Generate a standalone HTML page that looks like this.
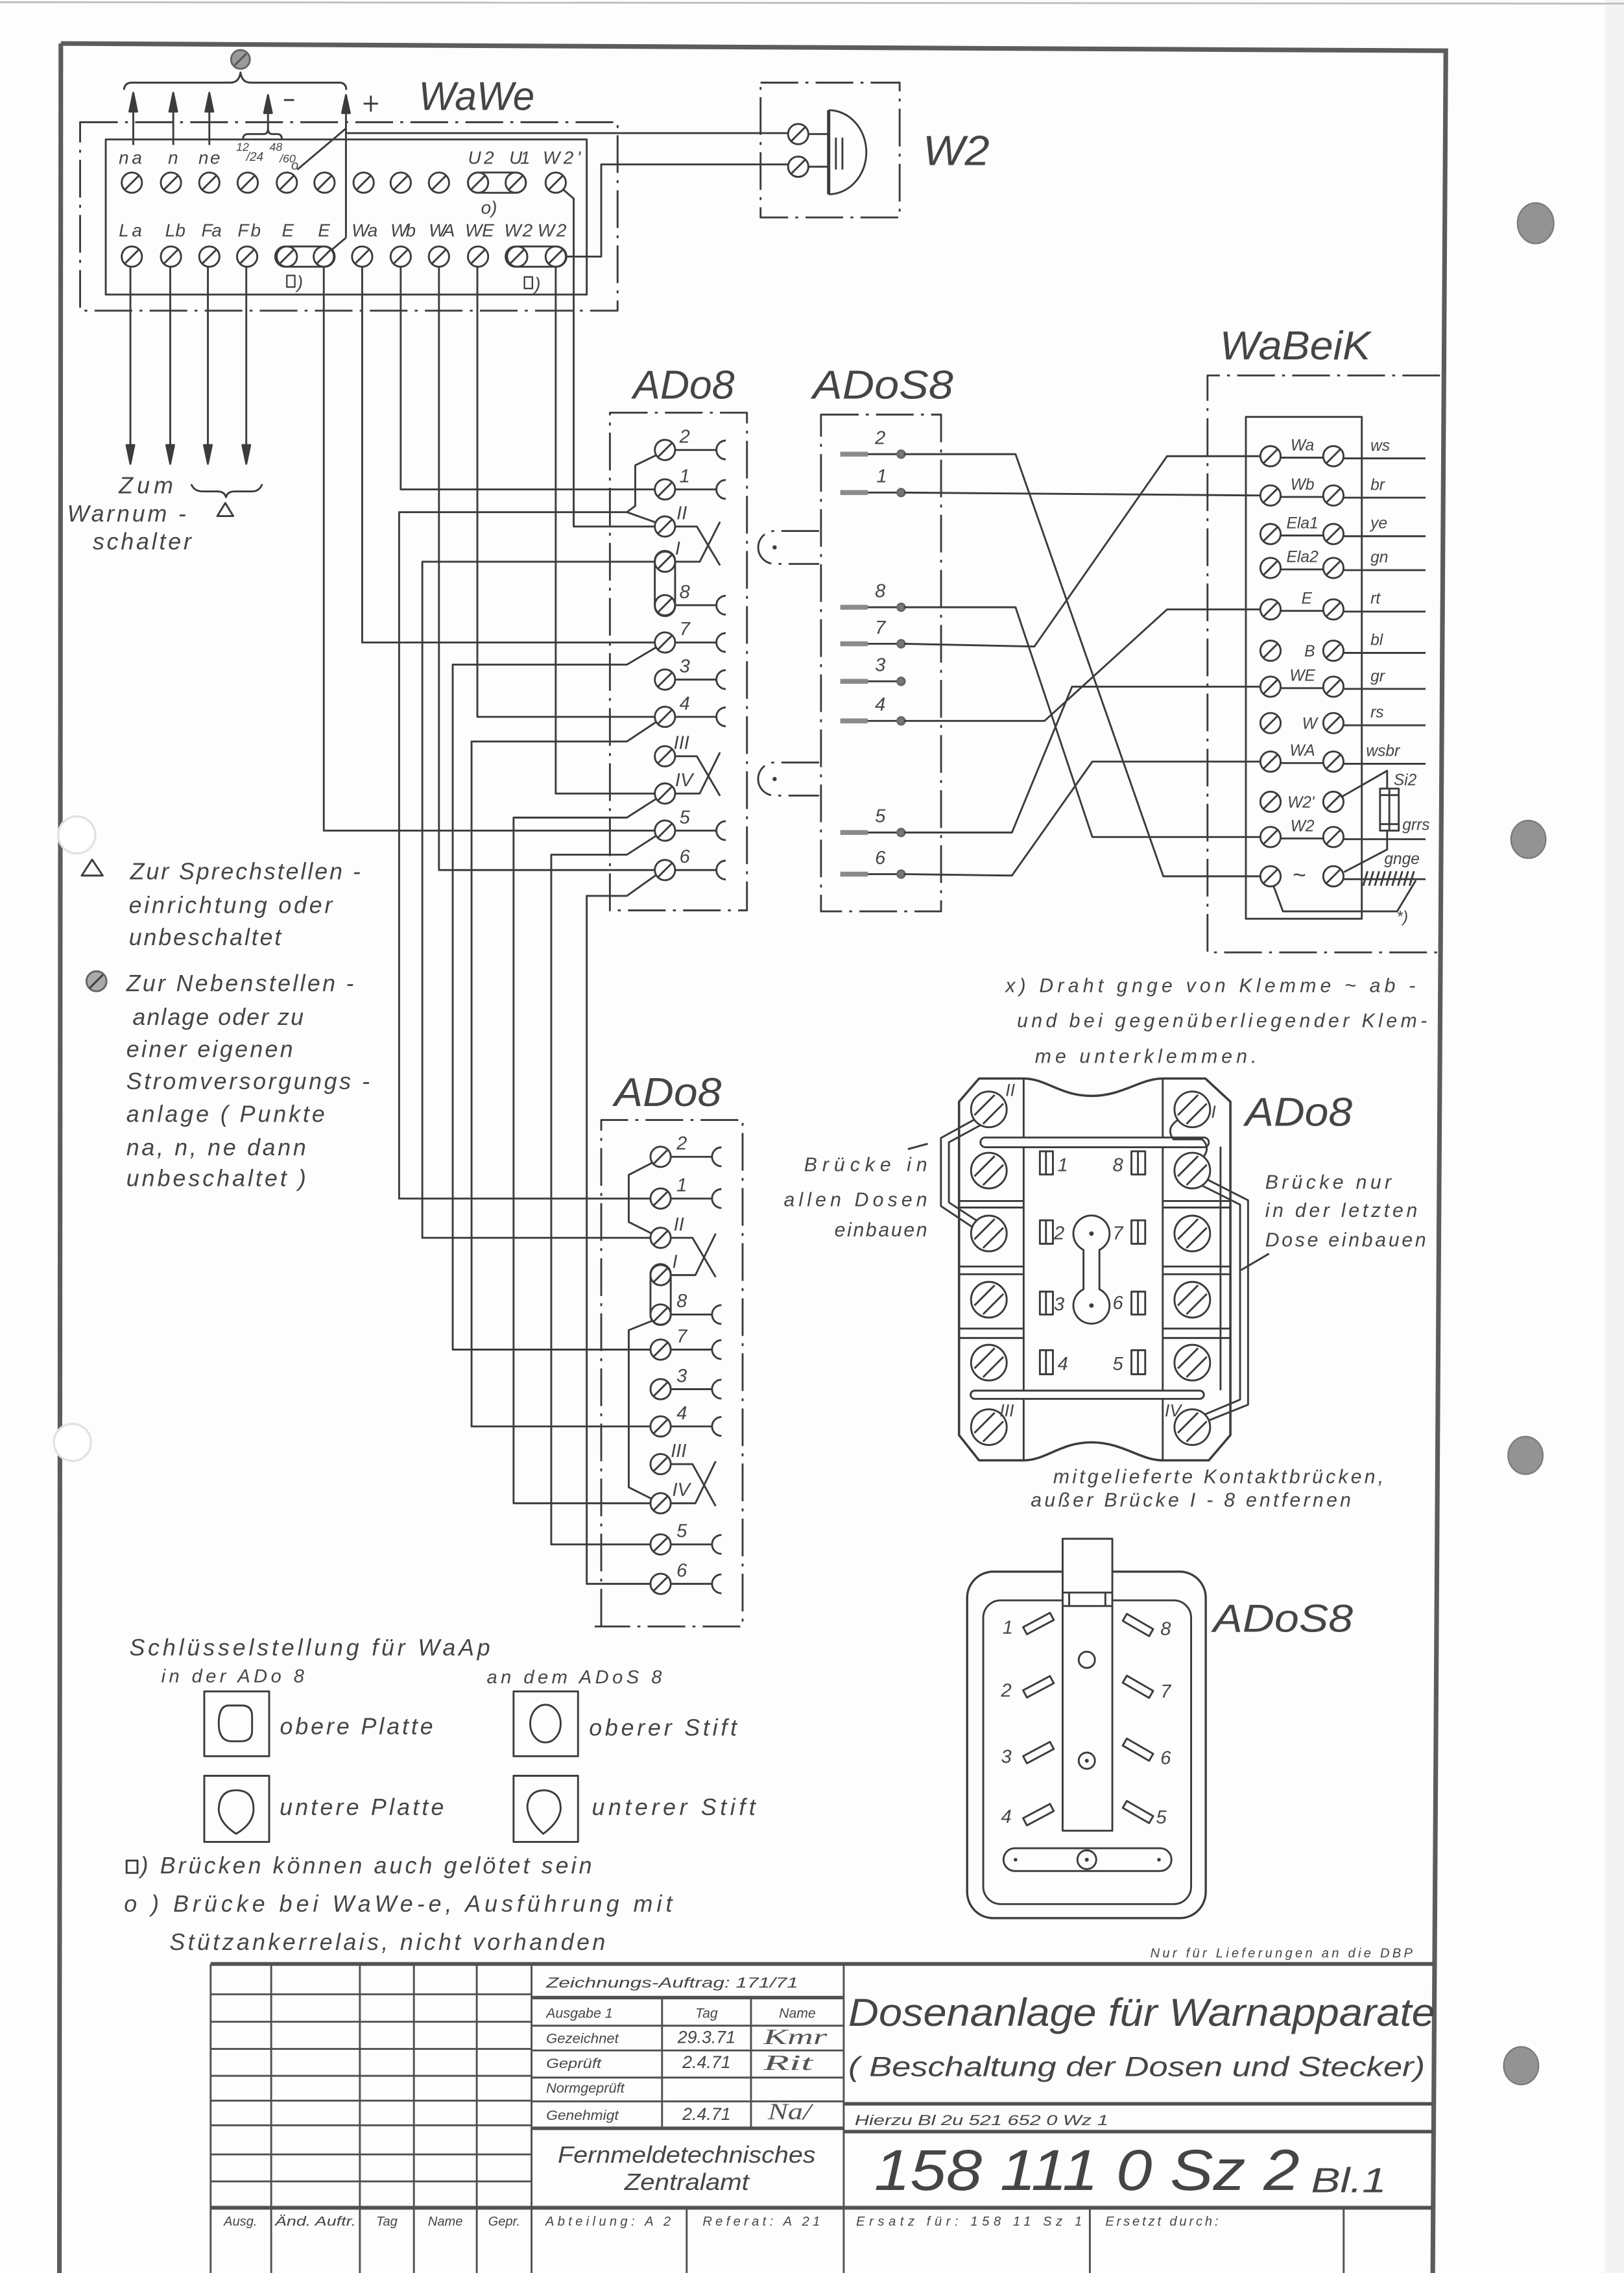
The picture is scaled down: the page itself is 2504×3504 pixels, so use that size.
<!DOCTYPE html>
<html><head><meta charset="utf-8">
<style>
html,body{margin:0;padding:0;background:#fff;}
svg{display:block;}
.t{font-family:"Liberation Sans",sans-serif;font-style:italic;fill:#454545;stroke:none;}
.n{font-family:"Liberation Sans",sans-serif;fill:#454545;stroke:none;}
.sg{font-family:"Liberation Serif",serif;font-style:italic;fill:#555;stroke:none;}
.dd{stroke-dasharray:26 5 2 5;}
</style></head><body>
<svg xmlns="http://www.w3.org/2000/svg" xmlns:xlink="http://www.w3.org/1999/xlink" width="2504" height="3504" viewBox="0 0 1121 1568" preserveAspectRatio="none">
<defs>
 <g id="t"><circle r="7" fill="#fff"/><line x1="-4.6" y1="4.6" x2="4.6" y2="-4.6"/></g>
 <path id="s" d="M6,-6.5 A6.5,6.5 0 0 0 6,6.5"/>
 <g id="T"><circle r="12.3" fill="#fff"/><line x1="-10" y1="4" x2="4" y2="-10"/><line x1="-4" y1="10" x2="10" y2="-4"/></g>
</defs>
<rect width="1121" height="1568" fill="#fdfdfd"/>
<rect x="1108" y="0" width="13" height="1568" fill="#f3f3f3"/>
<line x1="0" y1="1.5" x2="1121" y2="2.5" stroke="#bbb" stroke-width="1.2"/>

<!-- frame -->
<g stroke="#5c5c5c" stroke-width="3.2" fill="none">
 <path d="M42,30 L998,35 L989,1568"/>
 <line x1="42" y1="30" x2="41" y2="1568"/>
</g>
<!-- punch holes -->
<circle cx="53" cy="576" r="12.8" fill="#fff" stroke="#e2e2e2" stroke-width="1.5"/>
<circle cx="50" cy="995" r="12.8" fill="#fff" stroke="#e2e2e2" stroke-width="1.5"/>
<g fill="#939393" stroke="#7a7a7a" stroke-width="1">
 <ellipse cx="1060" cy="154" rx="12.5" ry="14"/>
 <ellipse cx="1055" cy="579" rx="12" ry="13"/>
 <ellipse cx="1053" cy="1004" rx="12" ry="13"/>
 <ellipse cx="1050" cy="1425" rx="12" ry="13"/>
</g>

<g stroke="#3c3c3c" stroke-width="1.3" fill="none" stroke-linejoin="round">

<!-- ===== WaWe ===== -->
<rect class="dd" x="55.3" y="84.3" width="371" height="130"/>
<rect x="73" y="96.2" width="332" height="107"/>
<path d="M85.6,62 Q86,57 91,57 H159 Q165,57 166,50 Q167,57 173,57 H234 Q239,57 239,62"/>
<circle cx="166" cy="41" r="6.5" fill="#9a9a9a" stroke="#666"/>
<line x1="162" y1="45" x2="170" y2="37" stroke="#555"/>
<path d="M92,100 V70 M119.6,100 V70 M144.5,100 V70 M185,88.6 V70 M238.8,164 V70"/>
<g fill="#3c3c3c">
 <path d="M89.3,77 L92,64 L94.7,77 Z"/><path d="M116.9,77 L119.6,64 L122.3,77 Z"/>
 <path d="M141.8,77 L144.5,64 L147.2,77 Z"/><path d="M182.3,78 L185,65.5 L187.7,78 Z"/>
 <path d="M236.1,78 L238.8,65.5 L241.5,78 Z"/>
</g>
<path d="M167.7,96 Q168,92.5 171,92.5 H182 Q185,92.5 185,88.6 Q185,92.5 188,92.5 H191.5 Q194.5,92.5 194.5,96"/>
<path d="M196,69 H203 M251,71.5 H261 M256,66 V77"/>
<path d="M238.8,164 L227,174 M238.8,88.6 L205.2,117"/>
<use xlink:href="#t" x="91" y="126"/><use xlink:href="#t" x="118" y="126"/><use xlink:href="#t" x="144.5" y="126"/>
<use xlink:href="#t" x="171" y="126"/><use xlink:href="#t" x="198" y="126"/><use xlink:href="#t" x="224" y="126"/>
<use xlink:href="#t" x="251" y="126"/><use xlink:href="#t" x="276.6" y="126"/><use xlink:href="#t" x="303" y="126"/>
<use xlink:href="#t" x="330" y="126"/><use xlink:href="#t" x="356" y="126"/><use xlink:href="#t" x="383.6" y="126"/>
<rect x="323" y="119" width="40" height="14" rx="7"/>
<use xlink:href="#t" x="91" y="177"/><use xlink:href="#t" x="118" y="177"/><use xlink:href="#t" x="144.5" y="177"/>
<use xlink:href="#t" x="170.6" y="177"/><use xlink:href="#t" x="198" y="177"/><use xlink:href="#t" x="223.5" y="177"/>
<use xlink:href="#t" x="250" y="177"/><use xlink:href="#t" x="276.6" y="177"/><use xlink:href="#t" x="303" y="177"/>
<use xlink:href="#t" x="330" y="177"/><use xlink:href="#t" x="357" y="177"/><use xlink:href="#t" x="383.6" y="177"/>
<rect x="190" y="170" width="41" height="14" rx="7"/>
<rect x="349" y="170" width="42" height="14" rx="7"/>
<rect x="198" y="190" width="5.5" height="8" stroke-width="1"/>
<rect x="362" y="191" width="5.5" height="8" stroke-width="1"/>
<path d="M90,184 V310 M117.5,184 V310 M143.5,184 V310 M170,184 V310"/>
<g fill="#3c3c3c">
 <path d="M87.3,307 L90,320 L92.7,307 Z"/><path d="M114.8,307 L117.5,320 L120.2,307 Z"/>
 <path d="M140.8,307 L143.5,320 L146.2,307 Z"/><path d="M167.3,307 L170,320 L172.7,307 Z"/>
</g>
<path d="M132,334 Q134,339 140,339 H150 Q155,339 156,343 Q157,339 162,339 H174 Q179,339 181,334"/>
<polygon points="150,356 155.5,347 161,356"/>

<!-- ===== W2 ===== -->
<rect class="dd" x="525" y="57" width="96" height="93"/>
<path d="M238.8,91.8 H544 M390.8,177 H415 V113.4 H544"/>
<use xlink:href="#t" x="551" y="92.5"/><use xlink:href="#t" x="551" y="115"/>
<path d="M558,92.5 H572 M558,115 H572"/>
<path d="M572,76 V134" stroke-width="2.2"/>
<path d="M572,76 A26,29 0 0 1 572,134"/>
<path d="M577,95 V117 M581.5,95 V117"/>

<!-- ===== wires WaWe -> ADo8 ===== -->
<path d="M223.5,184 V573 H452"/>
<path d="M250,184 V443.2 H452"/>
<path d="M276.6,184 V337.6 H452"/>
<path d="M303,184 V600.2 H452"/>
<path d="M329.5,184 V494.5 H452"/>
<path d="M383.6,184 V547.4 H452"/>
<path d="M389,131 L396,137 V363.2 H452"/>
<path d="M432.7,353.3 H275.5 V826.8 H449"/>
<path d="M454,313.5 L438.5,321 V349 L432.7,353.3 L453,360.5"/>
<path d="M452,387.5 H291.5 V853.9 H449"/>
<path d="M453,446.5 L432.7,458.5 H312.5 V931 H449"/>
<path d="M453,498 L432.7,511.5 H325.5 V984 H449"/>
<path d="M453,551 L432.7,564 H354.5 V1037 H449"/>
<path d="M453,576.5 L432.7,589.6 H380.5 V1065.4 H449"/>
<path d="M453,603.5 L432.7,618 H405 V1092.6 H449"/>

<!-- ===== ADo8 (top) ===== -->
<rect class="dd" x="421" y="284.7" width="94.6" height="343.3"/>
<g>
 <use xlink:href="#t" x="459" y="310.4"/><use xlink:href="#t" x="459" y="337.6"/><use xlink:href="#t" x="459" y="363.2"/>
 <use xlink:href="#t" x="459" y="387.5"/><use xlink:href="#t" x="459" y="417.5"/><use xlink:href="#t" x="459" y="443.2"/>
 <use xlink:href="#t" x="459" y="468.8"/><use xlink:href="#t" x="459" y="494.5"/><use xlink:href="#t" x="459" y="521.7"/>
 <use xlink:href="#t" x="459" y="547.4"/><use xlink:href="#t" x="459" y="573"/><use xlink:href="#t" x="459" y="600.2"/>
</g>
<rect x="452" y="380" width="14" height="45" rx="7"/>
<path d="M466,310.4 H495 M466,337.6 H495 M466,417.5 H495 M466,443.2 H495 M466,468.8 H495 M466,494.5 H495 M466,573 H495 M466,600.2 H495"/>
<use xlink:href="#s" x="495" y="310.4"/><use xlink:href="#s" x="495" y="337.6"/><use xlink:href="#s" x="495" y="417.5"/>
<use xlink:href="#s" x="495" y="443.2"/><use xlink:href="#s" x="495" y="468.8"/><use xlink:href="#s" x="495" y="494.5"/>
<use xlink:href="#s" x="495" y="573"/><use xlink:href="#s" x="495" y="600.2"/>
<path d="M466,363.2 H481 L497,390 M466,387.5 H483 L497,360"/>
<path d="M466,521.7 H481 L497,549 M466,547.4 H483 L497,519"/>

<path class="dd" d="M565.4,366.3 H534.7 A11.35,11.35 0 0 0 534.7,389 H565.4"/>
<path class="dd" d="M565.4,526 H534.7 A11.4,11.4 0 0 0 534.7,548.8 H565.4"/>
<circle cx="534.7" cy="377.6" r="0.8" fill="#444"/>
<circle cx="534.7" cy="537.4" r="0.8" fill="#444"/>

<!-- ===== ADoS8 (top) ===== -->
<rect class="dd" x="566.7" y="286" width="82.9" height="342.7"/>
<g stroke="#8a8a8a" stroke-width="3.4">
 <path d="M580,313.3 H599 M580,339.8 H599 M580,418.9 H599 M580,444.1 H599 M580,470 H599 M580,497.3 H599 M580,574.3 H599 M580,603 H599"/>
</g>
<path d="M599,313.3 H620 M599,339.8 H620 M599,418.9 H620 M599,444.1 H620 M599,470 H620 M599,497.3 H620 M599,574.3 H620 M599,603 H620"/>
<g fill="#777" stroke="#666">
 <circle cx="622" cy="313.3" r="2.6"/><circle cx="622" cy="339.8" r="2.6"/><circle cx="622" cy="418.9" r="2.6"/>
 <circle cx="622" cy="444.1" r="2.6"/><circle cx="622" cy="470" r="2.6"/><circle cx="622" cy="497.3" r="2.6"/>
 <circle cx="622" cy="574.3" r="2.6"/><circle cx="622" cy="603" r="2.6"/>
</g>
<path d="M624,313.3 H701 L803,604.5 H870"/>
<path d="M624,339.8 L870,341.8"/>
<path d="M624,418.9 H701 L754,577.4 H870"/>
<path d="M624,444.1 L714,446 L805.6,314.7 H870"/>
<path d="M624,497.3 H721 L805.6,420.4 H870"/>
<path d="M624,574.3 H698.5 L740,473.7 H870"/>
<path d="M624,603 L698.5,604 L754,525.4 H870"/>

<!-- ===== WaBeiK ===== -->
<path class="dd" d="M994,259 H833.5 V657 H994"/>
<rect x="860" y="287.6" width="80" height="346.2"/>
<path d="M884,315.7 H913 M884,342.8 H913 M884,369.4 H913 M884,392.8 H913 M884,421.4 H913 M884,474.7 H913 M884,526.4 H913 M884,578.4 H913"/>
<path d="M927,316.2 H984 M927,343.3 H984 M927,369.9 H984 M927,393.3 H984 M927,421.9 H984 M927,450.4 H984 M927,475.2 H984 M927,500.3 H984 M927,526.9 H984 M927,578.9 H984"/>
<g>
 <use xlink:href="#t" x="877" y="314.7"/><use xlink:href="#t" x="920.4" y="314.7"/>
 <use xlink:href="#t" x="877" y="341.8"/><use xlink:href="#t" x="920.4" y="341.8"/>
 <use xlink:href="#t" x="877" y="368.4"/><use xlink:href="#t" x="920.4" y="368.4"/>
 <use xlink:href="#t" x="877" y="391.8"/><use xlink:href="#t" x="920.4" y="391.8"/>
 <use xlink:href="#t" x="877" y="420.4"/><use xlink:href="#t" x="920.4" y="420.4"/>
 <use xlink:href="#t" x="877" y="448.9"/><use xlink:href="#t" x="920.4" y="448.9"/>
 <use xlink:href="#t" x="877" y="473.7"/><use xlink:href="#t" x="920.4" y="473.7"/>
 <use xlink:href="#t" x="877" y="498.8"/><use xlink:href="#t" x="920.4" y="498.8"/>
 <use xlink:href="#t" x="877" y="525.4"/><use xlink:href="#t" x="920.4" y="525.4"/>
 <use xlink:href="#t" x="877" y="553.1"/><use xlink:href="#t" x="920.4" y="553.1"/>
 <use xlink:href="#t" x="877" y="577.4"/><use xlink:href="#t" x="920.4" y="577.4"/>
 <use xlink:href="#t" x="877" y="604.5"/><use xlink:href="#t" x="920.4" y="604.5"/>
</g>
<path d="M925.5,550 L957.5,531.7 V544 M957.5,573 V586 L927.7,601.6"/>
<rect x="952.6" y="544" width="12.9" height="29"/>
<path d="M952.6,548.5 H965.5 M952.6,568.5 H965.5 M959,544 V573"/>
<path d="M927.5,606.5 H984"/>
<path d="M944,601 L941,611 M948,601 L945,611 M952,601 L949,611 M956,601 L953,611 M960,601 L957,611 M964,601 L961,611 M968,601 L965,611 M972,601 L969,611 M976,601 L973,611"/>
<path d="M879,611 L885.6,628.7 H964.4 L977.3,607.3"/>

<!-- ===== ADo8 (bottom) ===== -->
<path class="dd" d="M415,1122 V772.6 H512.6 V1122 H410.5"/>
<path d="M450.5,802 L434,810.5 V843 L450,851"/>
<path d="M450.5,911 L434,917.6 V1026 L450,1034"/>
<g>
 <use xlink:href="#t" x="456" y="798"/><use xlink:href="#t" x="456" y="826.8"/><use xlink:href="#t" x="456" y="853.9"/>
 <use xlink:href="#t" x="456" y="879.6"/><use xlink:href="#t" x="456" y="906.8"/><use xlink:href="#t" x="456" y="931"/>
 <use xlink:href="#t" x="456" y="958.3"/><use xlink:href="#t" x="456" y="984"/><use xlink:href="#t" x="456" y="1010"/>
 <use xlink:href="#t" x="456" y="1037"/><use xlink:href="#t" x="456" y="1065.4"/><use xlink:href="#t" x="456" y="1092.6"/>
</g>
<rect x="449" y="872" width="14" height="42" rx="7"/>
<path d="M463,798 H492 M463,826.8 H492 M463,906.8 H492 M463,931 H492 M463,958.3 H492 M463,984 H492 M463,1065.4 H492 M463,1092.6 H492"/>
<use xlink:href="#s" x="492" y="798"/><use xlink:href="#s" x="492" y="826.8"/><use xlink:href="#s" x="492" y="906.8"/>
<use xlink:href="#s" x="492" y="931"/><use xlink:href="#s" x="492" y="958.3"/><use xlink:href="#s" x="492" y="984"/>
<use xlink:href="#s" x="492" y="1065.4"/><use xlink:href="#s" x="492" y="1092.6"/>
<path d="M463,853.9 H478 L494,881 M463,879.6 H480 L494,851"/>
<path d="M463,1010 H478 L494,1039 M463,1037 H480 L494,1008"/>

<!-- ===== ADo8 detail ===== -->
<path d="M662,760 L675.8,744 L706.6,744 C722,744 732,756 753.4,756 C775,756 787,744 802.6,744 L832,744 L849.3,760 L849.3,990 L834.4,1007.4 L802.6,1007.4 C787,1007.4 775,995 753.4,995 C732,995 722,1007.4 706.6,1007.4 L675.8,1007.4 L662,990 Z" stroke-width="1.6"/>
<path d="M706.6,744 V1007.4 M802.6,744 V1007.4 M842.5,791 V959"/>
<path d="M662,828.5 H706.6 M662,833 H706.6 M662,873.7 H706.6 M662,879 H706.6 M662,916.5 H706.6 M662,923 H706.6"/>
<path d="M802.6,828.5 H849.3 M802.6,833 H849.3 M802.6,873.7 H849.3 M802.6,879 H849.3 M802.6,916.5 H849.3 M802.6,923 H849.3"/>
<rect x="676.8" y="784.7" width="157.6" height="6.7" rx="3.3" fill="#fdfdfd"/>
<rect x="670" y="959.3" width="161" height="5.7" rx="2.8" fill="#fdfdfd"/>
<path d="M675,771 L649.5,785 V832 L672,847"/>
<path d="M679,775 L655,788 V829.5 L675,842.5"/>
<path d="M832,813 L861.5,828 V969 L834,980"/>
<path d="M829,817.5 L856,831 V965.5 L831,976"/>
<path d="M814,772 Q804,778 810,786 H830 Q836,792 830,799 Q818,800 814,802"/>
<g>
 <use xlink:href="#T" x="682.6" y="765.3"/><use xlink:href="#T" x="682.6" y="807.5"/><use xlink:href="#T" x="682.6" y="850.9"/>
 <use xlink:href="#T" x="682.6" y="896.6"/><use xlink:href="#T" x="682.6" y="940"/><use xlink:href="#T" x="682.6" y="984.5"/>
 <use xlink:href="#T" x="823" y="765.3"/><use xlink:href="#T" x="823" y="807.5"/><use xlink:href="#T" x="823" y="850.9"/>
 <use xlink:href="#T" x="823" y="896.6"/><use xlink:href="#T" x="823" y="940"/><use xlink:href="#T" x="823" y="984.5"/>
</g>
<rect x="717.8" y="794.2" width="9" height="16"/><rect x="717.8" y="841.8" width="9" height="16.2"/>
<rect x="717.8" y="891" width="9" height="15.8"/><rect x="717.8" y="931.4" width="9" height="16.6"/>
<rect x="781" y="794.2" width="9.5" height="16"/><rect x="781" y="841.8" width="9.5" height="16.2"/>
<rect x="781" y="891" width="9.5" height="15.8"/><rect x="781" y="931.4" width="9.5" height="16.6"/>
<path d="M722,794.2 V810.2 M722,841.8 V858 M722,891 V906.8 M722,931.4 V948 M785.5,794.2 V810.2 M785.5,841.8 V858 M785.5,891 V906.8 M785.5,931.4 V948"/>
<path d="M747.9,862.2 A12.5,12.5 0 1 1 758.9,862.2 L758.9,889.4 A12.5,12.5 0 1 1 747.9,889.4 Z"/>
<circle cx="753.4" cy="851" r="0.9" fill="#444"/><circle cx="753.4" cy="900.6" r="0.9" fill="#444"/>
<path d="M876,864.8 L856.6,876.2 M626.7,792.7 L640.4,789"/>

<!-- ===== ADoS8 detail ===== -->
<rect x="667.6" y="1084.2" width="164.7" height="239" rx="18" stroke-width="1.5"/>
<rect x="678.7" y="1104" width="143.5" height="209.5" rx="12"/>
<rect x="733.5" y="1061.5" width="34.3" height="201.4" fill="#fdfdfd"/>
<path d="M733.5,1098.6 H767.8 M733.5,1107.9 H767.8 M738,1098.6 V1107.9 M763,1098.6 V1107.9"/>
<circle cx="750.2" cy="1145" r="5.6"/>
<circle cx="750.2" cy="1214.6" r="5.6"/><circle cx="750.2" cy="1214.6" r="0.7" fill="#444"/>
<g>
 <rect x="-10.5" y="-2.8" width="21" height="5.6" transform="translate(716.8,1120) rotate(-28)"/>
 <rect x="-10.5" y="-2.8" width="21" height="5.6" transform="translate(716.8,1163.6) rotate(-28)"/>
 <rect x="-10.5" y="-2.8" width="21" height="5.6" transform="translate(716.8,1209) rotate(-28)"/>
 <rect x="-10.5" y="-2.8" width="21" height="5.6" transform="translate(716.8,1251.8) rotate(-28)"/>
 <rect x="-10.5" y="-2.8" width="21" height="5.6" transform="translate(785.5,1121) rotate(30)"/>
 <rect x="-10.5" y="-2.8" width="21" height="5.6" transform="translate(785.5,1163.6) rotate(30)"/>
 <rect x="-10.5" y="-2.8" width="21" height="5.6" transform="translate(785.5,1207) rotate(30)"/>
 <rect x="-10.5" y="-2.8" width="21" height="5.6" transform="translate(785.5,1250) rotate(30)"/>
</g>
<rect x="692.7" y="1275" width="115.9" height="15.7" rx="7.8"/>
<circle cx="750.2" cy="1282.9" r="6.5" fill="#fdfdfd"/><circle cx="750.2" cy="1282.9" r="0.7" fill="#444"/>
<circle cx="701" cy="1282.9" r="0.6" fill="#444"/><circle cx="800" cy="1282.9" r="0.6" fill="#444"/>

<!-- ===== legend boxes ===== -->
<rect x="141" y="1166.8" width="44.8" height="44.7"/>
<rect x="354.5" y="1166.8" width="44.5" height="44.7"/>
<rect x="141" y="1225" width="44.8" height="45.6"/>
<rect x="354.5" y="1225" width="44.5" height="45.6"/>
<path d="M158,1176.5 H167 Q174,1176.5 174,1184 V1194 Q174,1201.2 166,1201.2 H160 Q151,1201.2 151,1189 Q151,1176.5 158,1176.5 Z"/>
<ellipse cx="376.5" cy="1189" rx="10.5" ry="13"/>
<path d="M163,1265 Q152,1258 151,1249 Q151,1235 163,1235 Q175,1235 175,1248 Q175,1258 163,1265 Z"/>
<path d="M375,1265 Q364,1255 364,1246 Q365,1235 376,1235 Q387,1236 387,1248 Q386,1257 375,1265 Z"/>
<rect x="87.4" y="1283.5" width="7.5" height="8.5"/>
<polygon points="56.4,604 63.6,593 70.9,604"/>
<circle cx="66.6" cy="676.9" r="6.9" fill="#aaa" stroke="#666"/>
<line x1="62" y1="681.5" x2="71" y2="672.5"/>

<!-- ===== title block ===== -->
<g stroke="#505050">
 <path d="M145.4,1354.8 H989" stroke-width="2.6"/>
 <path d="M145.4,1354.8 V1568 M187.2,1354.8 V1568 M248.4,1354.8 V1568 M285.7,1354.8 V1568 M329.1,1354.8 V1568 M366.9,1354.8 V1568"/>
 <path d="M145.4,1375.7 H366.9 M145.4,1394.7 H366.9 M145.4,1413.4 H366.9 M145.4,1432 H366.9 M145.4,1449.1 H366.9 M145.4,1466.1 H366.9 M145.4,1486.2 H366.9 M145.4,1504.8 H366.9"/>
 <path d="M145.4,1523 H989" stroke-width="2.6"/>
 <path d="M582.4,1354.8 V1568 M474,1523 V1568 M752.3,1523 V1568 M927.5,1523 V1568"/>
 <path d="M366.9,1378 H582.4 M366.9,1468.2 H582.4 M582.4,1451.3 H989 M582.4,1470.5 H989" stroke-width="2.4"/>
 <path d="M366.9,1397.4 H582.4 M366.9,1414.5 H582.4 M366.9,1433.2 H582.4 M366.9,1449.6 H582.4"/>
 <path d="M457,1378 V1468.2 M518.4,1378 V1468.2"/>
</g>
</g>

<!-- ================= TEXT ================= -->
<g class="t">
 <text x="289" y="75.8" font-size="28" textLength="80" lengthAdjust="spacingAndGlyphs">WaWe</text>
 <text x="637" y="114" font-size="29" textLength="46" lengthAdjust="spacingAndGlyphs">W2</text>
 <text x="437" y="275" font-size="28" textLength="70" lengthAdjust="spacingAndGlyphs">ADo8</text>
 <text x="561" y="275" font-size="28" textLength="97" lengthAdjust="spacingAndGlyphs">ADoS8</text>
 <text x="842" y="248" font-size="28" textLength="104" lengthAdjust="spacingAndGlyphs">WaBeiK</text>
 <text x="424" y="763" font-size="28" textLength="74" lengthAdjust="spacingAndGlyphs">ADo8</text>
 <text x="859.5" y="776.6" font-size="28" textLength="74" lengthAdjust="spacingAndGlyphs">ADo8</text>
 <text x="837.4" y="1125.6" font-size="27" textLength="96.5" lengthAdjust="spacingAndGlyphs">ADoS8</text>

 <g font-size="12.5">
  <text x="82" y="113" textLength="16">na</text><text x="116" y="113">n</text><text x="137" y="113" textLength="15">ne</text>
  <text x="323" y="113" textLength="18">U2</text><text x="351.5" y="113" textLength="14.5">U1</text><text x="374.7" y="113" textLength="26">W2'</text>
  <text x="82" y="163" textLength="16">La</text><text x="114" y="163" textLength="14">Lb</text><text x="139" y="163" textLength="14">Fa</text>
  <text x="164" y="163" textLength="16">Fb</text><text x="194.5" y="163">E</text><text x="219.5" y="163">E</text>
  <text x="242.7" y="163" textLength="18">Wa</text><text x="269.5" y="163" textLength="17.5">Wb</text><text x="296" y="163" textLength="18">WA</text>
  <text x="321" y="163" textLength="20">WE</text><text x="348" y="163" textLength="19.6">W2</text><text x="371" y="163" textLength="20">W2</text>
  <text x="332" y="147.5">o)</text><text x="205" y="199">)</text><text x="369" y="200">)</text>
 </g>
 <text x="163" y="104" font-size="8">12</text><text x="170" y="111" font-size="8.5">/24</text>
 <text x="186" y="104" font-size="8">48</text><text x="193" y="112" font-size="8">/60</text>
 <text x="201" y="117" font-size="9">o</text>

 <g font-size="16">
  <text x="82" y="340.4" textLength="37.5">Zum</text>
  <text x="46.4" y="359.8" textLength="82">Warnum -</text>
  <text x="64" y="379" textLength="68">schalter</text>
 </g>

 <g font-size="13">
  <text x="469" y="305.4">2</text><text x="469" y="332.6">1</text><text x="467" y="358.2">II</text><text x="466" y="382.5">I</text>
  <text x="469" y="412.5">8</text><text x="469" y="438.2">7</text><text x="469" y="463.8">3</text><text x="469" y="489.5">4</text>
  <text x="465" y="516.7">III</text><text x="466" y="542.4">IV</text><text x="469" y="568">5</text><text x="469" y="595.2">6</text>
 </g>
 <g font-size="13">
  <text x="467" y="793">2</text><text x="467" y="821.8">1</text><text x="465" y="848.9">II</text><text x="464" y="874.6">I</text>
  <text x="467" y="901.8">8</text><text x="467" y="926">7</text><text x="467" y="953.3">3</text><text x="467" y="979">4</text>
  <text x="463" y="1005">III</text><text x="464" y="1032">IV</text><text x="467" y="1060.4">5</text><text x="467" y="1087.6">6</text>
 </g>
 <g font-size="13">
  <text x="604" y="306.3">2</text><text x="605" y="332.8">1</text><text x="604" y="411.9">8</text><text x="604" y="437.1">7</text>
  <text x="604" y="463">3</text><text x="604" y="490.3">4</text><text x="604" y="567.3">5</text><text x="604" y="596">6</text>
 </g>
 <g font-size="11" text-anchor="middle">
  <text x="899" y="310.7">Wa</text><text x="899" y="337.8">Wb</text><text x="899" y="364.4">Ela1</text><text x="899" y="387.8">Ela2</text>
  <text x="902" y="416.4">E</text><text x="904" y="452.9">B</text><text x="899" y="469.7">WE</text><text x="904" y="502.8">W</text>
  <text x="899" y="521.4">WA</text><text x="898" y="557.1">W2'</text><text x="899" y="573.4">W2</text>
 </g>
 <text x="892" y="609" font-size="16">~</text>
 <g font-size="11">
  <text x="946" y="311">ws</text><text x="946" y="338">br</text><text x="946" y="364.5">ye</text><text x="946" y="388">gn</text>
  <text x="946" y="416.5">rt</text><text x="946" y="445">bl</text><text x="946" y="470">gr</text><text x="946" y="495">rs</text>
  <text x="943" y="521.5">wsbr</text><text x="962" y="541.7">Si2</text><text x="968" y="572.6">grrs</text><text x="955.5" y="596">gnge</text>
  <text x="964" y="636">*)</text>
 </g>

 <g font-size="13.5">
  <text x="694" y="684.4" textLength="283">x) Draht gnge von Klemme ~ ab -</text>
  <text x="702" y="708.5" textLength="283">und bei gegenüberliegender Klem-</text>
  <text x="714.4" y="733.3" textLength="153">me unterklemmen.</text>
 </g>

 <g font-size="12">
  <text x="694" y="756">II</text><text x="836" y="771">I</text><text x="690" y="977">III</text><text x="804" y="977">IV</text>
 </g>
 <g font-size="13">
  <text x="730" y="808">1</text><text x="727.5" y="855">2</text><text x="727.5" y="904">3</text><text x="730" y="945">4</text>
  <text x="768" y="808">8</text><text x="768" y="855">7</text><text x="768" y="903">6</text><text x="768" y="945">5</text>
 </g>
 <g font-size="13.5">
  <text x="873.3" y="820" textLength="87">Brücke nur</text>
  <text x="873.3" y="839.5" textLength="105">in der letzten</text>
  <text x="873.3" y="859.9" textLength="111">Dose einbauen</text>
  <text x="555" y="808" textLength="85">Brücke in</text>
  <text x="541" y="832" textLength="99">allen Dosen</text>
  <text x="576" y="853" textLength="64">einbauen</text>
  <text x="727" y="1023.3" textLength="228">mitgelieferte Kontaktbrücken,</text>
  <text x="711.5" y="1039.4" textLength="221">außer Brücke I - 8 entfernen</text>
 </g>
 <g font-size="13">
  <text x="692" y="1127">1</text><text x="691" y="1170.5">2</text><text x="691" y="1216">3</text><text x="691" y="1257.5">4</text>
  <text x="801" y="1128">8</text><text x="801" y="1171">7</text><text x="801" y="1217">6</text><text x="798" y="1258">5</text>
 </g>

 <g font-size="16">
  <text x="89.8" y="606.6" textLength="159">Zur Sprechstellen -</text>
  <text x="88.9" y="629.8" textLength="140.5">einrichtung oder</text>
  <text x="89" y="652" textLength="105">unbeschaltet</text>
  <text x="87.2" y="683.8" textLength="157">Zur Nebenstellen -</text>
  <text x="91.5" y="707" textLength="118">anlage oder zu</text>
  <text x="87.2" y="729.1" textLength="115">einer eigenen</text>
  <text x="87.2" y="751.4" textLength="168">Stromversorgungs -</text>
  <text x="87.2" y="773.9" textLength="137">anlage ( Punkte</text>
  <text x="87.2" y="797" textLength="124">na, n, ne dann</text>
  <text x="87.2" y="818.3" textLength="124">unbeschaltet )</text>
 </g>

 <text x="89.3" y="1142.1" font-size="16" textLength="249">Schlüsselstellung für WaAp</text>
 <text x="111.3" y="1160.5" font-size="13" textLength="98.6">in der ADo 8</text>
 <text x="336" y="1161.3" font-size="13" textLength="120.8">an dem ADoS 8</text>
 <g font-size="16">
  <text x="193.2" y="1196.4" textLength="105.7">obere Platte</text>
  <text x="406.6" y="1197.3" textLength="102">oberer Stift</text>
  <text x="193" y="1252" textLength="113.4">untere Platte</text>
  <text x="408.5" y="1252" textLength="113">unterer Stift</text>
  <text x="97" y="1292.3" textLength="311.5">) Brücken können auch gelötet sein</text>
  <text x="85.6" y="1318.7" textLength="378.4">o ) Brücke  bei WaWe-e, Ausführung mit</text>
  <text x="117" y="1345.2" textLength="300.8">Stützankerrelais, nicht vorhanden</text>
 </g>
 <text x="794" y="1350.3" font-size="9" textLength="181">Nur für Lieferungen an die DBP</text>
</g>

<g class="n" font-style="italic">
 <text x="377" y="1371.2" font-size="10" textLength="174" lengthAdjust="spacingAndGlyphs">Zeichnungs-Auftrag: 171/71</text>
 <text x="377" y="1392" font-size="9.5" textLength="46" lengthAdjust="spacingAndGlyphs">Ausgabe 1</text>
 <text x="487.7" y="1392" font-size="9.5" text-anchor="middle">Tag</text>
 <text x="550.4" y="1392" font-size="9.5" text-anchor="middle">Name</text>
 <text x="377" y="1409.3" font-size="9.5" textLength="50" lengthAdjust="spacingAndGlyphs">Gezeichnet</text>
 <text x="377" y="1426.5" font-size="9.5" textLength="38" lengthAdjust="spacingAndGlyphs">Geprüft</text>
 <text x="377" y="1443.6" font-size="9.5" textLength="54" lengthAdjust="spacingAndGlyphs">Normgeprüft</text>
 <text x="377" y="1462.3" font-size="9.5" textLength="50" lengthAdjust="spacingAndGlyphs">Genehmigt</text>
 <text x="487.7" y="1409.3" font-size="12" text-anchor="middle">29.3.71</text>
 <text x="487.7" y="1426.5" font-size="12" text-anchor="middle">2.4.71</text>
 <text x="487.7" y="1462.3" font-size="12" text-anchor="middle">2.4.71</text>
 <text x="474" y="1492" font-size="16" text-anchor="middle" textLength="178" lengthAdjust="spacingAndGlyphs">Fernmeldetechnisches</text>
 <text x="474" y="1510.8" font-size="16" text-anchor="middle" textLength="86" lengthAdjust="spacingAndGlyphs">Zentralamt</text>
 <text x="585.6" y="1397.4" font-size="27" textLength="405" lengthAdjust="spacingAndGlyphs">Dosenanlage für Warnapparate</text>
 <text x="585.6" y="1432.3" font-size="19" textLength="398" lengthAdjust="spacingAndGlyphs">( Beschaltung der Dosen und Stecker)</text>
 <text x="590" y="1466" font-size="10" textLength="175" lengthAdjust="spacingAndGlyphs">Hierzu  Bl 2u 521 652 0 Wz 1</text>
 <text x="603.4" y="1510.8" font-size="40" textLength="293.6" lengthAdjust="spacingAndGlyphs">158 111 0 Sz 2</text>
 <text x="905" y="1512.3" font-size="24" textLength="52" lengthAdjust="spacingAndGlyphs">Bl.1</text>
 <g font-size="9">
  <text x="166" y="1535.4" text-anchor="middle">Ausg.</text>
  <text x="217.8" y="1535.4" text-anchor="middle" textLength="56" lengthAdjust="spacingAndGlyphs">Änd. Auftr.</text>
  <text x="267" y="1535.4" text-anchor="middle">Tag</text>
  <text x="307.4" y="1535.4" text-anchor="middle">Name</text>
  <text x="348" y="1535.4" text-anchor="middle">Gepr.</text>
  <text x="376.5" y="1535.4" textLength="86.5">Abteilung: A 2</text>
  <text x="485" y="1535.4" textLength="81">Referat: A 21</text>
  <text x="591" y="1535.4" textLength="155.8">Ersatz für: 158 11 Sz 1</text>
  <text x="763" y="1535.4" textLength="78">Ersetzt durch:</text>
 </g>
</g>
<g class="sg">
 <text x="527" y="1410" font-size="15" textLength="44" lengthAdjust="spacingAndGlyphs">Kmr</text>
 <text x="527" y="1428" font-size="15" textLength="34" lengthAdjust="spacingAndGlyphs">Rit</text>
 <text x="530" y="1462" font-size="16" textLength="30" lengthAdjust="spacingAndGlyphs">Na/</text>
</g>
</svg>
</body></html>
